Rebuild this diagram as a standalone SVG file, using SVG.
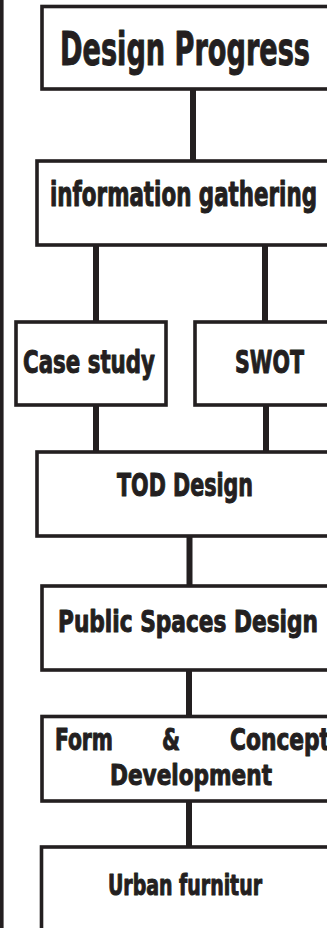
<svg xmlns="http://www.w3.org/2000/svg" width="327" height="928" viewBox="0 0 327 928">
  <style>
    .box { fill: #ffffff; stroke: #231f20; stroke-width: 3.6; }
    .link { stroke: #231f20; stroke-width: 6; fill: none; }
    .frame { stroke: #231f20; stroke-width: 3.6; }
    .lbl { font-family: "Liberation Sans Narrow", "DejaVu Sans Condensed", "Liberation Sans", sans-serif; font-weight: bold; fill: #231f20; stroke: #231f20; stroke-width: 1; stroke-linejoin: round; }
  </style>
  <rect width="327" height="928" fill="#ffffff"/>
  <!-- page frame on the left edge -->
  <line class="frame" x1="1.8" y1="0" x2="1.8" y2="928"/>

  <!-- connectors -->
  <g id="connectors">
    <line class="link" x1="193" y1="89" x2="193" y2="161"/>
    <line class="link" x1="96" y1="245" x2="96" y2="322"/>
    <line class="link" x1="265" y1="245" x2="265" y2="322"/>
    <line class="link" x1="96" y1="405" x2="96" y2="452"/>
    <line class="link" x1="266" y1="405" x2="266" y2="452"/>
    <line class="link" x1="189.5" y1="536" x2="189.5" y2="586"/>
    <line class="link" x1="189" y1="670" x2="189" y2="716.5"/>
    <line class="link" x1="189" y1="801" x2="189" y2="847"/>
  </g>

  <g id="design-progress">
    <rect class="box" x="42" y="6.5" width="300" height="82.5"/>
    <text class="lbl" x="60" y="65" font-size="47" textLength="250" lengthAdjust="spacingAndGlyphs">Design Progress</text>
  </g>

  <g id="information-gathering">
    <rect class="box" x="37" y="161" width="305" height="84"/>
    <text class="lbl" x="50" y="206" font-size="33" textLength="267" lengthAdjust="spacingAndGlyphs">information gathering</text>
  </g>

  <g id="case-study">
    <rect class="box" x="16" y="322" width="150" height="83"/>
    <text class="lbl" x="23" y="373" font-size="32" textLength="132" lengthAdjust="spacingAndGlyphs">Case study</text>
  </g>

  <g id="swot">
    <rect class="box" x="195" y="322" width="147" height="83"/>
    <text class="lbl" x="235" y="373" font-size="32" textLength="69" lengthAdjust="spacingAndGlyphs">SWOT</text>
  </g>

  <g id="tod-design">
    <rect class="box" x="37" y="452" width="305" height="84"/>
    <text class="lbl" x="117" y="496" font-size="32" textLength="136" lengthAdjust="spacingAndGlyphs">TOD Design</text>
  </g>

  <g id="public-spaces-design">
    <rect class="box" x="42" y="586" width="300" height="84"/>
    <text class="lbl" x="58" y="631.5" font-size="30" textLength="260" lengthAdjust="spacingAndGlyphs">Public Spaces Design</text>
  </g>

  <g id="form-concept-development">
    <rect class="box" x="42" y="716.5" width="300" height="84.5"/>
    <text class="lbl" x="55" y="750" font-size="30" textLength="58" lengthAdjust="spacingAndGlyphs">Form</text>
    <text class="lbl" x="162" y="750" font-size="30" textLength="18" lengthAdjust="spacingAndGlyphs">&amp;</text>
    <text class="lbl" x="230" y="750" font-size="30" textLength="100" lengthAdjust="spacingAndGlyphs">Concept</text>
    <text class="lbl" x="110" y="785" font-size="29" textLength="162" lengthAdjust="spacingAndGlyphs">Development</text>
  </g>

  <g id="urban-furniture">
    <rect class="box" x="41.5" y="847" width="300.5" height="100"/>
    <text class="lbl" x="108" y="895" font-size="28" textLength="154" lengthAdjust="spacingAndGlyphs">Urban furnitur</text>
  </g>
</svg>
